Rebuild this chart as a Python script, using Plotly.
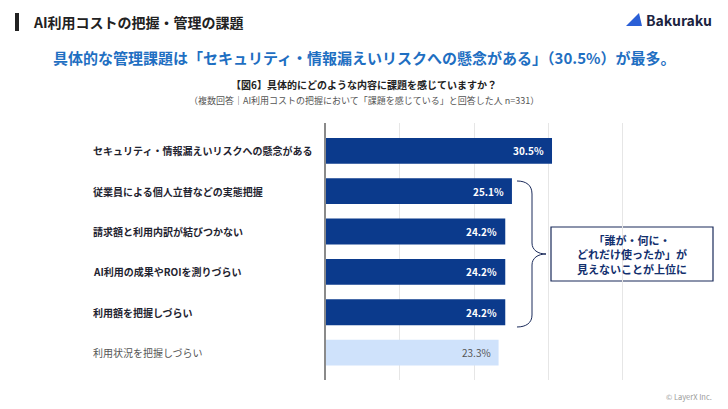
import plotly.graph_objects as go

# data
categories = [
    "セキュリティ・情報漏えいリスクへの懸念がある",
    "従業員による個人立替などの実態把握",
    "請求額と利用内訳が結びつかない",
    "AI利用の成果やROIを測りづらい",
    "利用額を把握しづらい",
    "利用状況を把握しづらい",
]
values = [30.5, 25.1, 24.2, 24.2, 24.2, 23.3]

W, H = 728, 409
FONT = "Noto Sans CJK JP"
NAVY = "#0b3a8c"
LIGHT = "#cfe2fb"
INK = "#1f2430"


def px(x, y):
    # pixel position -> paper coordinates (margins are zero)
    return x / W, 1 - y / H


def path(points):
    out = []
    for cmd, *xy in points:
        coords = []
        for i in range(0, len(xy), 2):
            a, b = px(xy[i], xy[i + 1])
            coords.append(f"{a:.5f},{b:.5f}")
        out.append(cmd + " ".join(coords))
    return " ".join(out)


highlight = [i < 5 for i in range(len(categories))]
bar_colors = [NAVY if h else LIGHT for h in highlight]

fig = go.Figure(
    go.Bar(
        x=values,
        y=categories,
        orientation="h",
        marker={"color": bar_colors, "line": {"width": 0}},
        width=0.64,
        hoverinfo="skip",
    )
)

annotations = []
# category labels, left aligned
for cat, h in zip(categories, highlight):
    annotations.append(
        dict(
            xref="paper", yref="y", x=91 / W, y=cat, xanchor="left", yanchor="middle",
            text=f"<b>{cat}</b>" if h else cat, showarrow=False,
            font={"family": FONT, "size": 10, "color": INK if h else "#555555"},
        )
    )
# value labels at the end of each bar
for cat, v, h in zip(categories, values, highlight):
    annotations.append(
        dict(
            xref="x", yref="y", x=v, y=cat, xanchor="right", yanchor="middle", xshift=-6,
            text=f"<b>{v:.1f}%</b>" if h else f"{v:.1f}%", showarrow=False,
            font={"family": FONT, "size": 10, "color": "white" if h else "#555555"},
        )
    )


# header texts
def text_at(x, y, text, size, color, anchor="left"):
    a, b = px(x, y)
    annotations.append(
        dict(
            xref="paper", yref="paper", x=a, y=b, xanchor=anchor, yanchor="middle",
            text=text, showarrow=False, font={"family": FONT, "size": size, "color": color},
        )
    )


text_at(31, 22, "<b>AI利用コストの把握・管理の課題</b>", 14, "#222222")
text_at(644, 20, "<b>Bakuraku</b>", 14, "#1b2340")
text_at(
    364, 58,
    "<b>具体的な管理課題は「セキュリティ・情報漏えいリスクへの懸念がある」（30.5%）が最多。</b>",
    15, "#1f6fc2", anchor="center",
)
text_at(364, 84, "<b>【図6】具体的にどのような内容に課題を感じていますか？</b>", 10, "#222222", anchor="center")
text_at(
    364, 101,
    "（複数回答｜AI利用コストの把握において「課題を感じている」と回答した人 n=331）",
    9, "#555555", anchor="center",
)
text_at(
    632, 254,
    "<b>「誰が・何に・<br>どれだけ使ったか」が<br>見えないことが上位に</b>",
    11, "#13306e", anchor="center",
)
text_at(714, 396, "© LayerX Inc.", 7.5, "#9a9a9a", anchor="right")

shapes = []
# header bar
x0, y0 = px(15, 13)
x1, y1 = px(19, 31)
shapes.append(dict(type="rect", xref="paper", yref="paper", x0=x0, y0=y0, x1=x1, y1=y1,
                   fillcolor="#222222", line={"width": 0}))
# logo triangle
shapes.append(dict(type="path", xref="paper", yref="paper",
                   path=path([("M", 626, 26), ("L", 639, 13), ("L", 642, 26), ("Z",)]),
                   fillcolor="#2a5fd6", line={"width": 0}))
# brace
shapes.append(dict(
    type="path", xref="paper", yref="paper",
    path=path([
        ("M", 517, 181),
        ("C", 526, 181, 532, 185, 532, 194),
        ("L", 532, 243),
        ("C", 532, 250, 538, 254, 546, 254),
        ("C", 538, 254, 532, 258, 532, 265),
        ("L", 532, 315),
        ("C", 532, 323, 526, 327, 517, 327),
    ]),
    line={"color": "#1a2a5a", "width": 1},
))
# callout box
x0, y0 = px(551, 227)
x1, y1 = px(713, 281)
shapes.append(dict(type="rect", xref="paper", yref="paper", x0=x0, y0=y0, x1=x1, y1=y1,
                   fillcolor="white", line={"color": "#1a2a5a", "width": 1.2}, layer="below"))

fig.update_layout(
    width=W,
    height=H,
    margin={"l": 0, "r": 0, "t": 0, "b": 0},
    paper_bgcolor="white",
    plot_bgcolor="white",
    showlegend=False,
    font={"family": FONT},
    xaxis={
        "domain": [325.7 / W, 659.6 / W],
        "range": [0, 45],
        "dtick": 10,
        "showgrid": True,
        "gridcolor": "#e6e6e6",
        "gridwidth": 1,
        "zeroline": False,
        "showticklabels": False,
        "fixedrange": True,
    },
    yaxis={
        "domain": [1 - 380 / H, 1 - 123 / H],
        "categoryorder": "array",
        "categoryarray": categories,
        "range": [5.68, -0.69],
        "showticklabels": False,
        "showgrid": False,
        "showline": True,
        "linecolor": "#8a8a8a",
        "linewidth": 1.5,
        "fixedrange": True,
    },
    annotations=annotations,
    shapes=shapes,
)

# the page body has a default 8px margin; drop it so the figure sits at 0,0
fig.write_html(
    "out.html",
    config={"displayModeBar": False},
    post_script="document.body.style.margin='0';",
)
